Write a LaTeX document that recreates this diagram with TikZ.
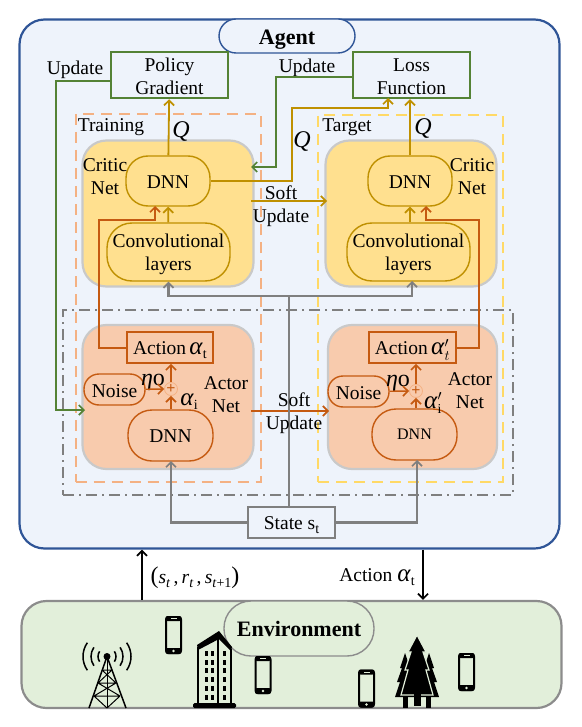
\documentclass[tikz,border=0pt]{standalone}
\usepackage{fontspec}
\setmainfont{Liberation Serif}
\usetikzlibrary{arrows.meta, calc}
\definecolor{agentblue}{HTML}{2F5597}
\definecolor{agentfill}{HTML}{EEF3FB}
\definecolor{envfill}{HTML}{E2EFDA}
\definecolor{envline}{HTML}{8C8C8C}
\definecolor{netgreen}{HTML}{548235}
\definecolor{gold}{HTML}{BF9000}
\definecolor{goldfill}{HTML}{FFE08F}
\definecolor{rust}{HTML}{C55A11}
\definecolor{rustfill}{HTML}{F8CBAD}
\definecolor{shell}{HTML}{C9C9C9}
\definecolor{slate}{HTML}{7F7F7F}
\definecolor{peach}{HTML}{F4B183}
\definecolor{sun}{HTML}{FFD966}
\newcommand{\alphabig}{{\fontsize{25}{25}\selectfont\textit{α}}}
\newcommand{\Qlabel}{{\fontsize{24}{24}\selectfont\textit{Q}}}
\newcommand{\subtext}[1]{\raisebox{-4pt}{\fontsize{14}{14}\selectfont #1}}
\newcommand{\topstrut}[1]{\rule{0pt}{#1pt}}
\tikzset{
  txt/.style={font=\fontsize{19.5}{23}\selectfont, align=center, inner sep=0pt, yshift=-2pt},
  box/.style={rectangle, line width=#1, align=center, inner sep=0pt, font=\fontsize{19.5}{23}\selectfont},
  netbox/.style={box=2.2pt, draw=shell, rounded corners=24pt, minimum width=171pt, minimum height=146pt},
  critic/.style={netbox, fill=goldfill},
  actor/.style={netbox, fill=rustfill, minimum height=144pt},
  cpill/.style={box=1.4pt, draw=gold, fill=goldfill, rounded corners=22pt},
  apill/.style={box=1.4pt, draw=rust, fill=rustfill, rounded corners=#1},
  greenbox/.style={box=2.4pt, draw=netgreen, fill=agentfill, minimum width=117pt, minimum height=46pt},
  actionbox/.style={box=1.6pt, draw=rust, fill=rustfill, minimum width=86pt, minimum height=31pt},
  bartip/.style={-{Straight Barb[length=5pt,width=10pt,line width=1.7pt]}},
  greenline/.style={bartip, netgreen, line width=1.8pt},
  goldline/.style={bartip, gold, line width=1.8pt},
  rustline/.style={bartip, rust, line width=1.4pt},
  grayline/.style={bartip, slate, line width=2.2pt},
  blackline/.style={bartip, black, line width=1.6pt},
  icon/.style={black, line width=1.5pt},
  phone/.pic={
    \draw[black, line width=2pt, rounded corners=2.5pt, fill=envfill] (-7.5,-18) rectangle (7.5,18);
    \fill[black, rounded corners=2pt] (-8,-19) rectangle (8,-14);
    \fill[black, rounded corners=2pt] (-8,13) rectangle (8,19);
    \fill[envfill] (0,16) circle (1.4);
    \fill[envfill] (-3,-17) rectangle (3,-16);
  }
}
\begin{document}
\begin{tikzpicture}[x=1pt, y=-1pt]
  \useasboundingbox (0,0) rectangle (581,727);
  % outer boxes
  \node[box=2.2pt, draw=agentblue, fill=agentfill, rounded corners=25pt, minimum width=540pt, minimum height=529pt] (agent) at (289.5,284) {};
  \node[box=2.2pt, draw=envline, fill=envfill, rounded corners=25pt, minimum width=540pt, minimum height=107pt] (env) at (291.5,654.5) {};
  \node[box=1.4pt, draw=agentblue, fill=agentfill, rounded corners=17pt, minimum width=136pt, minimum height=34pt, font=\fontsize{22}{24}\selectfont\bfseries] (agentlabel) at (287,36) {\topstrut{21}Agent};
  \node[box=1.4pt, draw=envline, fill=envfill, rounded corners=27pt, minimum width=150pt, minimum height=55pt, font=\fontsize{22}{24}\selectfont\bfseries] (envlabel) at (299,628.5) {Environment};

  % dashed groups
  \node[draw=peach, dash pattern=on 11pt off 7pt, line width=2pt, minimum width=185pt, minimum height=368pt, inner sep=0pt] (training) at (168,298) {};
  \node[draw=sun, dash pattern=on 11pt off 7pt, line width=2pt, minimum width=185pt, minimum height=367pt, inner sep=0pt] (target) at (410.5,298.5) {};
  \node[draw=slate, dash pattern=on 11pt off 5pt on 2pt off 5pt, line width=1.3pt, minimum width=450pt, minimum height=185pt, inner sep=0pt] (actors) at (288,402.5) {};

  % critic nets
  \node[critic] (criticL) at (168,213.5) {};
  \node[critic] (criticR) at (411,213.5) {};
  \node[actor] (actorL) at (168,397) {};
  \node[actor, minimum width=169pt] (actorR) at (412.5,397) {};

  \node[cpill, minimum width=84pt, minimum height=50pt] (dnnCL) at (168,181) {\topstrut{15}DNN};
  \node[cpill, minimum width=84pt, minimum height=50pt] (dnnCR) at (410,181) {\topstrut{15}DNN};
  \node[cpill, minimum width=123pt, minimum height=58pt, rounded corners=25pt] (convL) at (168.5,252) {\topstrut{18}Convolutional\\layers};
  \node[cpill, minimum width=123pt, minimum height=58pt, rounded corners=25pt] (convR) at (408.5,252) {\topstrut{18}Convolutional\\layers};

  % actor nets
  \node[actionbox] (actionL) at (170,347.5) {\topstrut{19}Action\,\alphabig\subtext{t}};
  \node[actionbox, minimum width=87pt] (actionR) at (412.5,347.5) {\topstrut{20}Action\,\alphabig$^{\prime}_{t}$};
  \node[apill=15pt, minimum width=61pt, minimum height=31pt] (noiseL) at (114.5,389.5) {\topstrut{17}Noise};
  \node[apill=15pt, minimum width=61pt, minimum height=31pt] (noiseR) at (358.5,391.5) {\topstrut{17}Noise};
  \node[apill=24pt, minimum width=85pt, minimum height=51pt] (dnnAL) at (170.5,435.5) {\topstrut{15}DNN};
  \node[apill=24pt, minimum width=85pt, minimum height=51pt, font=\fontsize{16}{18}\selectfont] (dnnAR) at (414.5,434.5) {DNN};
  \node[circle, draw=peach, line width=.8pt, minimum size=13pt, inner sep=0pt, font=\fontsize{16}{16}\selectfont\bfseries, text=rust] (plusL) at (171,389) {+};
  \node[circle, draw=peach, line width=.8pt, minimum size=13pt, inner sep=0pt, font=\fontsize{16}{16}\selectfont\bfseries, text=rust] (plusR) at (416,391) {+};

  % top boxes and state
  \node[greenbox] (policy) at (169.5,75) {\topstrut{16}Policy\\Gradient};
  \node[greenbox] (loss) at (411.5,75) {\topstrut{16}Loss\\Function};
  \node[box=2.2pt, draw=slate, fill=agentfill, minimum width=87pt, minimum height=31pt] (state) at (291.5,522.5) {\topstrut{19}State s\subtext{t}};

  % labels
  \node[txt] (lblUpdateL) at (75,68) {Update};
  \node[txt] (lblUpdateR) at (307,66) {Update};
  \node[txt] (lblTraining) at (111,125) {Training};
  \node[txt] (lblTarget) at (347,125) {Target};
  \node[txt] (lblCriticL) at (105,174.5) {Critic\\Net};
  \node[txt] (lblCriticR) at (472,174.5) {Critic\\Net};
  \node[txt] (lblActorL) at (226,393) {Actor\\Net};
  \node[txt] (lblActorR) at (470,389) {Actor\\Net};
  \node[txt] (lblQa) at (181,130) {\Qlabel};
  \node[txt] (lblQb) at (302,140) {\Qlabel};
  \node[txt] (lblQc) at (423,127) {\Qlabel};
  \node[txt] (lblEtaL) at (153,380) {{\fontsize{24}{24}\selectfont\textit{η}o}};
  \node[txt] (lblEtaR) at (398,381) {{\fontsize{24}{24}\selectfont\textit{η}o}};
  \node[txt] (lblAlphaL) at (189,400) {\alphabig\subtext{i}};
  \node[txt] (lblAlphaR) at (433,401) {\alphabig$^{\prime}_{\mathrm{i}}$};

  % critic connectors
  \draw[goldline] (dnnCL) -- (policy);
  \draw[goldline] (dnnCR.north) -- (dnnCR.north |- loss.south);
  \draw[goldline] (convL) -- (dnnCL);
  \draw[goldline] (convR.north -| dnnCR) -- (dnnCR);
  \coordinate (lossIn) at (388,98);
  \draw[goldline] (dnnCL.east) -| (292,108) -| (lossIn);
  \coordinate (softCa) at (251,201);
  \coordinate (softCb) at (327,201);
  \draw[goldline] (softCa) -- (softCb);

  % update connectors
  \coordinate (updL) at (85,410);
  \coordinate (updR) at (251,167);
  \draw[greenline] (policy.west |- 0,81) -| (56,410) -- (updL);
  \draw[greenline] (loss.west |- 0,77) -| (276,167) -- (updR);

  % action connectors
  \coordinate (dnnInL) at (155,206);
  \coordinate (dnnInR) at (426,206);
  \draw[rustline, line width=2pt] (actionL.west) -| (99,220) -| (dnnInL);
  \draw[rustline, line width=2pt] (actionR.east) -| (479,220) -| (dnnInR);
  \draw[rustline] (dnnAL.north -| plusL) -- (plusL.south);
  \draw[rustline] (plusL.north) -- (actionL.south -| plusL);
  \draw[rustline] (noiseL) -- (plusL);
  \draw[rustline] (dnnAR.north -| plusR) -- (plusR.south);
  \draw[rustline] (plusR.north) -- (actionR.south -| plusR);
  \draw[rustline] (noiseR) -- (plusR);
  \coordinate (softAa) at (251,411);
  \coordinate (softAb) at (329,411);
  \draw[rustline, line width=2pt] (softAa) -- (softAb);

  % state connectors
  \coordinate (trunk) at (289,296);
  \draw[slate, line width=2.2pt] (trunk |- state.north) -- (trunk);
  \draw[grayline] (trunk) -| (convL.south);
  \draw[grayline] (trunk) -| (412,281);
  \draw[grayline] (state.west) -| (171,461);
  \draw[grayline] (state.east) -| (417,460);

  % soft update text goes above the lines
  \node[txt] (lblSoftC) at (281,204) {Soft\\Update};
  \node[txt] (lblSoftA) at (294,411) {Soft\\Update};

  % agent and environment
  \draw[blackline] (env.north -| 142,0) -- (agent.south -| 142,0);
  \draw[blackline] (agent.south -| 423,0) -- (env.north -| 423,0);
  \node[txt] (lblObs) at (195,576) {{\fontsize{24}{24}\selectfont (}\textit{s}\subtext{\textit{t}}\,,\,\textit{r}\subtext{\textit{t}}\,,\,\textit{s}\subtext{\textit{t}+1}{\fontsize{24}{24}\selectfont )}};
  \node[txt] (lblAct) at (377,575) {Action \alphabig\subtext{t}};

  % tower
  \fill[black] (107,656.5) circle (3.5);
  \foreach \r in {9,16,24} {
    \draw[icon] ([shift={(145:\r)}]107,656.5) arc[start angle=145, end angle=215, radius=\r];
    \draw[icon] ([shift={(-35:\r)}]107,656.5) arc[start angle=-35, end angle=35, radius=\r];
  }
  \draw[icon] (89,708) -- (107,656.5) -- (126,708);
  \draw[icon, line width=.8pt] (107,660) -- (107,708);
  \draw[icon, line width=1pt] (102,670) -- (112,670) (98,683) -- (116,683) (94,696) -- (120,696)
    (102,670) -- (116,683) (112,670) -- (98,683) (98,683) -- (120,696) (116,683) -- (94,696)
    (94,696) -- (107,708) (120,696) -- (107,708);

  % building
  \fill[black, rounded corners=1.5pt] (193,703) rectangle (236,708);
  \draw[black, line width=2pt] (198,704) -- (198,647) (218,634) -- (218,704) (231,704) -- (231,649);
  \fill[black] (197,645) -- (219,631) -- (232,647) -- (231,651) -- (219,639) -- (198,650) -- cycle;
  \foreach \row in {0,1,2,3,4,5} {
    \fill[black] (204.5,{651+8.7*\row}) rectangle +(3,5);
    \fill[black] (210.5,{651+8.7*\row}) rectangle +(3,5);
    \fill[black] (223,{651+8.7*\row}) rectangle +(3,5);
  }

  % trees
  \foreach \dx in {-12,12} {
    \fill[black] ({417+\dx},653) -- ({422+\dx},668) -- ({420+\dx},668) -- ({425+\dx},682) -- ({422+\dx},682) -- ({427+\dx},697) -- ({407+\dx},697) -- ({412+\dx},682) -- ({409+\dx},682) -- ({414+\dx},668) -- ({412+\dx},668) -- cycle;
  }
  \fill[black] (403,697) rectangle (408,708);
  \fill[black] (425.5,697) rectangle (431,708);
  \fill[black, draw=envfill, line width=1.2pt] (417,635) -- (426,652) -- (423,652) -- (429,670) -- (426,670) -- (433,695) -- (401,695) -- (408,670) -- (405,670) -- (411,652) -- (408,652) -- cycle;
  \fill[black] (413.5,694) rectangle (420.5,706);

  % phones
  \pic at (173.5,635) {phone};
  \pic at (263,675) {phone};
  \pic at (366.5,688.5) {phone};
  \pic at (466.5,672) {phone};
\end{tikzpicture}
\end{document}
